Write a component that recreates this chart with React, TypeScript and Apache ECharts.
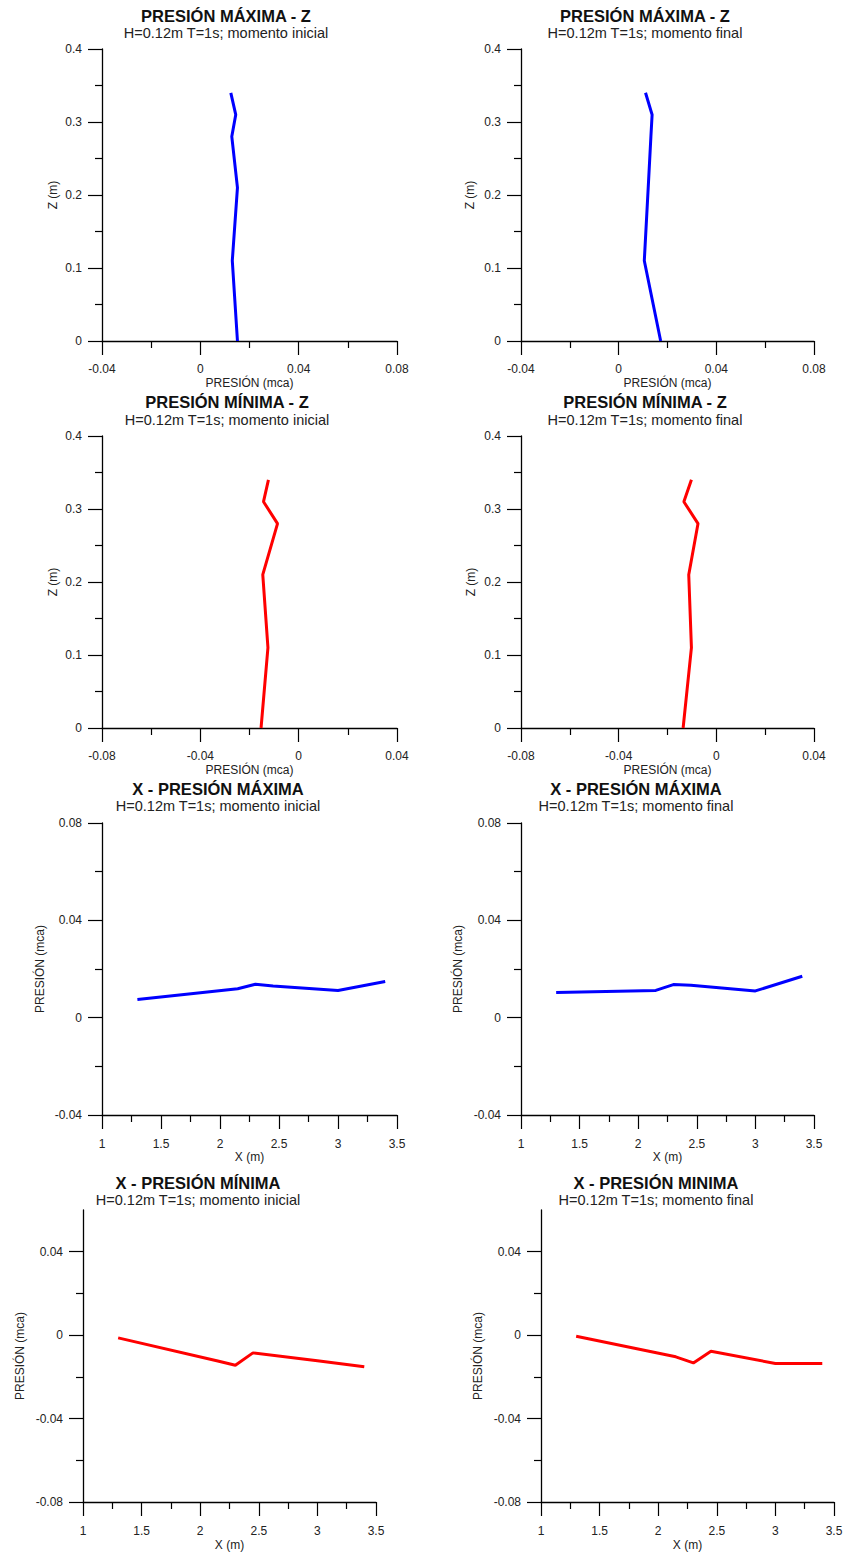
import React, { useEffect, useRef } from "react";
import * as echarts from "echarts";

// ---- Data ----
const zLevels = [0, 0.11, 0.21, 0.28, 0.31, 0.34];
const presMaxZInicial = [0.0151, 0.013, 0.0151, 0.0128, 0.0144, 0.0124];
const presMaxZFinal = [0.0172, 0.0105, 0.0121, 0.0132, 0.0137, 0.011];
const presMinZInicial = [-0.0153, -0.0125, -0.0146, -0.0086, -0.0143, -0.0123];
const presMinZFinal = [-0.0136, -0.0102, -0.0113, -0.0075, -0.0133, -0.0102];

const xPositions = [1.3, 2.15, 2.3, 2.45, 3.0, 3.4];
const presMaxXInicial = [0.0075, 0.0119, 0.0137, 0.013, 0.0112, 0.0149];
const presMaxXFinal = [0.0103, 0.0112, 0.0136, 0.0133, 0.011, 0.017];
const presMinXInicial = [-0.0013, -0.0124, -0.0144, -0.0085, -0.0123, -0.0152];
const presMinXFinal = [-0.0005, -0.0104, -0.0133, -0.0077, -0.0136, -0.0136];

// ---- Ticks ----
const presMaxTicks = [-0.04, 0, 0.04, 0.08];
const presMaxMinor = [-0.02, 0.02, 0.06];
const presMinTicks = [-0.08, -0.04, 0, 0.04];
const presMinMinor = [-0.06, -0.02, 0.02];
const zTicks = [0, 0.1, 0.2, 0.3, 0.4];
const zMinor = [0.05, 0.15, 0.25, 0.35];
const xTicks = [1, 1.5, 2, 2.5, 3, 3.5];
const xMinor = [1.25, 1.75, 2.25, 2.75, 3.25];

const FONT = '"Liberation Sans", Arial, Helvetica, sans-serif';

type AxisCfg = {
  min: number;
  max: number;
  major: number[];
  minor: number[];
  name: string;
  nameGap: number;
  margin: number;
};

type Panel = {
  title: string;
  subtitle: string;
  tx: number;
  ty: number;
  sy: number;
  grid: { left: number; top: number; width: number; height: number };
  x: AxisCfg;
  y: AxisCfg;
  data: number[][];
  color: string;
};

const zip = (a: number[], b: number[]) => a.map((v, i) => [v, b[i]]);

const presZAxis = (ticks: number[], minor: number[]): AxisCfg => ({
  min: ticks[0],
  max: ticks[ticks.length - 1],
  major: ticks,
  minor,
  name: "PRESIÓN (mca)",
  nameGap: 36,
  margin: 22,
});
const zAxis = (gap: number): AxisCfg => ({
  min: 0,
  max: 0.4,
  major: zTicks,
  minor: zMinor,
  name: "Z (m)",
  nameGap: gap,
  margin: 20,
});
const xAxisCfg = (gap: number): AxisCfg => ({
  min: 1,
  max: 3.5,
  major: xTicks,
  minor: xMinor,
  name: "X (m)",
  nameGap: gap,
  margin: 23,
});
const presXAxis = (min: number, max: number, ticks: number[], minor: number[], gap: number): AxisCfg => ({
  min,
  max,
  major: ticks,
  minor,
  name: "PRESIÓN (mca)",
  nameGap: gap,
  margin: 20,
});

const SUB_I = "H=0.12m T=1s; momento inicial";
const SUB_F = "H=0.12m T=1s; momento final";

const panels: Panel[] = [
  {
    title: "PRESIÓN MÁXIMA - Z",
    subtitle: SUB_I,
    tx: 226, ty: 16, sy: 33,
    grid: { left: 102, top: 49, width: 295, height: 292 },
    x: presZAxis(presMaxTicks, presMaxMinor),
    y: zAxis(43),
    data: zip(presMaxZInicial, zLevels),
    color: "#0000ff",
  },
  {
    title: "PRESIÓN MÁXIMA - Z",
    subtitle: SUB_F,
    tx: 645, ty: 16, sy: 33,
    grid: { left: 521, top: 49, width: 293, height: 292 },
    x: presZAxis(presMaxTicks, presMaxMinor),
    y: zAxis(45),
    data: zip(presMaxZFinal, zLevels),
    color: "#0000ff",
  },
  {
    title: "PRESIÓN MÍNIMA - Z",
    subtitle: SUB_I,
    tx: 227, ty: 402, sy: 420,
    grid: { left: 102, top: 436, width: 295, height: 292 },
    x: presZAxis(presMinTicks, presMinMinor),
    y: zAxis(43),
    data: zip(presMinZInicial, zLevels),
    color: "#ff0000",
  },
  {
    title: "PRESIÓN MÍNIMA - Z",
    subtitle: SUB_F,
    tx: 645, ty: 402, sy: 420,
    grid: { left: 521, top: 436, width: 293, height: 292 },
    x: presZAxis(presMinTicks, presMinMinor),
    y: zAxis(44),
    data: zip(presMinZFinal, zLevels),
    color: "#ff0000",
  },
  {
    title: "X - PRESIÓN MÁXIMA",
    subtitle: SUB_I,
    tx: 218, ty: 789, sy: 806,
    grid: { left: 102, top: 823, width: 295, height: 292 },
    x: xAxisCfg(36),
    y: presXAxis(-0.04, 0.08, presMaxTicks, presMaxMinor, 56),
    data: zip(xPositions, presMaxXInicial),
    color: "#0000ff",
  },
  {
    title: "X - PRESIÓN MÁXIMA",
    subtitle: SUB_F,
    tx: 636, ty: 789, sy: 806,
    grid: { left: 521, top: 823, width: 293, height: 292 },
    x: xAxisCfg(36),
    y: presXAxis(-0.04, 0.08, presMaxTicks, presMaxMinor, 57),
    data: zip(xPositions, presMaxXFinal),
    color: "#0000ff",
  },
  {
    title: "X - PRESIÓN MÍNIMA",
    subtitle: SUB_I,
    tx: 198, ty: 1183, sy: 1200,
    grid: { left: 83, top: 1210, width: 293, height: 292 },
    x: xAxisCfg(37),
    y: presXAxis(-0.08, 0.06, presMinTicks, presMinMinor, 57),
    data: zip(xPositions, presMinXInicial),
    color: "#ff0000",
  },
  {
    title: "X - PRESIÓN MINIMA",
    subtitle: SUB_F,
    tx: 656, ty: 1183, sy: 1200,
    grid: { left: 541, top: 1210, width: 293, height: 292 },
    x: xAxisCfg(37),
    y: presXAxis(-0.08, 0.06, presMinTicks, presMinMinor, 57),
    data: zip(xPositions, presMinXFinal),
    color: "#ff0000",
  },
];

const fmt = (v: number) => String(parseFloat(Number(v).toFixed(3)));

function buildAxes(kind: "x" | "y", gridIndex: number, c: AxisCfg) {
  const position = kind === "x" ? "bottom" : "left";
  const primary = {
    type: "value",
    gridIndex,
    min: c.min,
    max: c.max,
    position,
    name: c.name,
    nameLocation: "middle",
    nameGap: c.nameGap,
    nameMoveOverlap: false,
    nameTextStyle: { fontFamily: FONT, fontSize: 12, color: "#222" },
    axisLine: { show: true, onZero: false, lineStyle: { color: "#000", width: 1.3 } },
    axisTick: { show: true, customValues: c.major, length: 14, lineStyle: { color: "#000", width: 1.2 } },
    axisLabel: {
      show: true,
      customValues: c.major,
      margin: c.margin,
      fontFamily: FONT,
      fontSize: 12,
      color: "#222",
      formatter: (v: number) => fmt(v),
    },
    splitLine: { show: false },
  };
  const secondary = {
    type: "value",
    gridIndex,
    min: c.min,
    max: c.max,
    position,
    axisLine: { show: false, onZero: false },
    axisTick: { show: true, customValues: c.minor, length: 7, lineStyle: { color: "#000", width: 1.2 } },
    axisLabel: { show: false },
    splitLine: { show: false },
  };
  return [primary, secondary];
}

export default function App() {
  const ref = useRef<HTMLDivElement>(null);

  useEffect(() => {
    if (!ref.current) return;
    const chart = echarts.init(ref.current, null, { renderer: "svg" });

    const grid: any[] = [];
    const xAxis: any[] = [];
    const yAxis: any[] = [];
    const series: any[] = [];
    const graphic: any[] = [];

    panels.forEach((p, i) => {
      grid.push({ ...p.grid, containLabel: false, outerBoundsMode: "none" });
      xAxis.push(...buildAxes("x", i, p.x));
      yAxis.push(...buildAxes("y", i, p.y));
      series.push({
        type: "line",
        xAxisIndex: 2 * i,
        yAxisIndex: 2 * i,
        data: p.data,
        showSymbol: false,
        symbol: "none",
        lineStyle: { color: p.color, width: 3 },
        itemStyle: { color: p.color },
        clip: false,
      });
      graphic.push({
        type: "text",
        x: p.tx,
        y: p.ty,
        style: {
          text: p.title,
          fontFamily: FONT,
          fontSize: 16.5,
          fontWeight: "bold",
          fill: "#111",
          textAlign: "center",
          textVerticalAlign: "middle",
        },
      });
      graphic.push({
        type: "text",
        x: p.tx,
        y: p.sy,
        style: {
          text: p.subtitle,
          fontFamily: FONT,
          fontSize: 14.5,
          fill: "#222",
          textAlign: "center",
          textVerticalAlign: "middle",
        },
      });
    });

    chart.setOption({
      animation: false,
      backgroundColor: "#ffffff",
      grid,
      xAxis,
      yAxis,
      series,
      graphic,
    });

    return () => chart.dispose();
  }, []);

  return (
    <div
      ref={ref}
      style={{ position: "absolute", left: 0, top: 0, width: 849, height: 1553 }}
    />
  );
}
